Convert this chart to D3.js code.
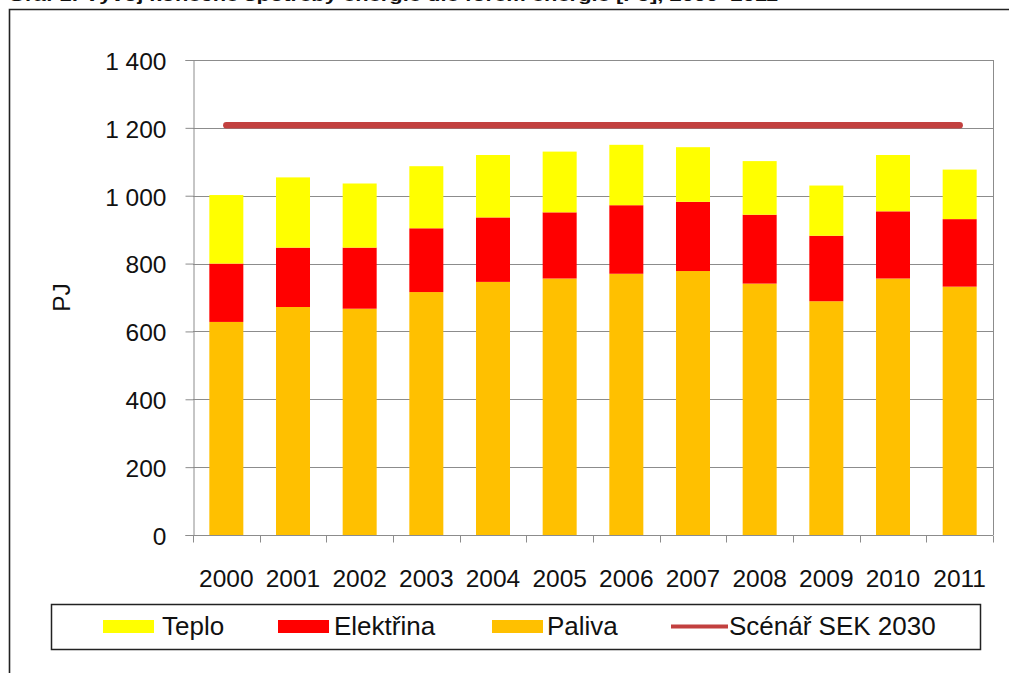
<!DOCTYPE html>
<html>
<head>
<meta charset="utf-8">
<script src="https://cdn.jsdelivr.net/npm/d3@7"></script>
<style>
  html, body { margin: 0; padding: 0; background: #fff; }
  svg { display: block; }
  text { font-family: "Liberation Sans", Arial, sans-serif; fill: #111; }
</style>
</head>
<body>
<svg id="chart" width="1009" height="673"></svg>
<script>
// ---- data ----
const years = ["2000","2001","2002","2003","2004","2005","2006","2007","2008","2009","2010","2011"];
const paliva    = [628, 672, 667, 716, 746, 756, 770, 778, 741, 689, 756, 732];
const elektrina = [172, 175, 180, 188, 190, 195, 202, 204, 203, 193, 198, 199];
const teplo     = [202, 207, 189, 183, 184, 179, 178, 161, 158, 148, 166, 146];
const sek2030   = [1208, 1208, 1208, 1208, 1208, 1208, 1208, 1208, 1208, 1208, 1208, 1208];
const yTicks = [0, 200, 400, 600, 800, 1000, 1200, 1400];
const seriesKeys = ["Paliva", "Elektřina", "Teplo"];
const legendLabels = ["Teplo", "Elektřina", "Paliva", "Scénář SEK 2030"];
const titleText = "Graf 1: Vývoj konečné spotřeby energie dle forem energie [PJ], 2000–2011";
const yLabel = "PJ";

const colors = { "Paliva": "#FFC000", "Elektřina": "#FF0000", "Teplo": "#FFFF00", "line": "#C2403F" };

const rows = years.map((y, i) => ({ year: y, "Paliva": paliva[i], "Elektřina": elektrina[i], "Teplo": teplo[i], sek: sek2030[i] }));

const svg = d3.select("#chart");
svg.append("rect").attr("width", 1009).attr("height", 673).attr("fill", "#fff");

// title (cut off at the top edge, as in the reference)
svg.append("text")
  .attr("x", 8).attr("y", 1)
  .attr("font-size", 17).attr("font-weight", "bold")
  .attr("textLength", 770).attr("lengthAdjust", "spacingAndGlyphs")
  .text(titleText);

// outer frame (top + left)
svg.append("path")
  .attr("d", "M9.5,673 L9.5,9.5 L1009,9.5")
  .attr("fill", "none").attr("stroke", "#222").attr("stroke-width", 1.6);

const L = 193, R = 993, T = 60, B = 535;
const x = d3.scaleBand().domain(years).range([L, R]).padding(0);
const y = d3.scaleLinear().domain([0, 1400]).range([B, T]);
const barW = x.bandwidth() * 0.51;

// gridlines
svg.append("g").selectAll("line").data(yTicks.filter(d => d > 0)).join("line")
  .attr("x1", L).attr("x2", R)
  .attr("y1", d => Math.round(y(d)) + 0.5).attr("y2", d => Math.round(y(d)) + 0.5)
  .attr("stroke", "#8c8c8c").attr("stroke-width", 1);

// plot border right
svg.append("line").attr("x1", R + 0.5).attr("x2", R + 0.5).attr("y1", T).attr("y2", B)
  .attr("stroke", "#8c8c8c");

// stacked bars
const stack = d3.stack().keys(seriesKeys)(rows);
svg.append("g").selectAll("g").data(stack).join("g")
  .attr("fill", d => colors[d.key])
  .selectAll("rect").data(d => d).join("rect")
  .attr("x", d => x(d.data.year) + (x.bandwidth() - barW) / 2)
  .attr("width", barW)
  .attr("y", d => y(d[1]))
  .attr("height", d => y(d[0]) - y(d[1]));

// y axis
const loc = d3.formatLocale({ decimal: ",", thousands: "\u00a0", grouping: [3], currency: ["", ""] });
const fmt = loc.format(",d");
const yAxis = svg.append("g").attr("transform", `translate(${L + 0.5},0)`)
  .call(d3.axisLeft(y).tickValues(yTicks).tickFormat(fmt).tickSize(8).tickPadding(19));
yAxis.select(".domain").attr("stroke", "#8c8c8c");
yAxis.selectAll(".tick line").attr("stroke", "#8c8c8c");
yAxis.selectAll(".tick text").attr("font-size", 24.5).attr("fill", "#111")
  .attr("font-family", "Liberation Sans, Arial, sans-serif").attr("dy", "0.38em");

// x axis
const xAxis = svg.append("g").attr("transform", `translate(0,${B + 0.5})`);
xAxis.append("line").attr("x1", L).attr("x2", R).attr("stroke", "#8c8c8c");
const bounds = years.map(d => x(d)).concat([x(years[years.length - 1]) + x.step()]);
xAxis.selectAll(".tk").data(bounds).join("line").attr("class", "tk")
  .attr("x1", d => Math.round(d) + 0.5).attr("x2", d => Math.round(d) + 0.5)
  .attr("y1", 0).attr("y2", 7).attr("stroke", "#8c8c8c");
xAxis.selectAll("text").data(years).join("text")
  .attr("x", d => x(d) + x.bandwidth() / 2).attr("y", 51)
  .attr("text-anchor", "middle").attr("font-size", 24.5)
  .text(d => d);

// y label
svg.append("text").attr("transform", `translate(70,${(T + B) / 2}) rotate(-90)`)
  .attr("text-anchor", "middle").attr("font-size", 24.5).text(yLabel);

// SEK line
const line = d3.line().x(d => x(d.year) + x.bandwidth() / 2).y(d => y(d.sek));
svg.append("path").datum(rows).attr("d", line)
  .attr("fill", "none").attr("stroke", colors.line).attr("stroke-width", 6.5)
  .attr("stroke-linecap", "round");

// legend
const lg = svg.append("g");
lg.append("rect").attr("x", 51.5).attr("y", 604.5).attr("width", 929).attr("height", 45)
  .attr("fill", "#fff").attr("stroke", "#222").attr("stroke-width", 1.5);
const legendItems = [
  { label: legendLabels[0], type: "rect", color: colors["Teplo"], sx: 103, tx: 162 },
  { label: legendLabels[1], type: "rect", color: colors["Elektřina"], sx: 278, tx: 334 },
  { label: legendLabels[2], type: "rect", color: colors["Paliva"], sx: 492, tx: 547 },
  { label: legendLabels[3], type: "line", color: colors.line, sx: 671, tx: 729 }
];
legendItems.forEach(it => {
  if (it.type === "rect") {
    lg.append("rect").attr("x", it.sx).attr("y", 620).attr("width", 51).attr("height", 13).attr("fill", it.color);
  } else {
    lg.append("line").attr("x1", it.sx).attr("x2", it.sx + 57).attr("y1", 626.5).attr("y2", 626.5)
      .attr("stroke", it.color).attr("stroke-width", 4);
  }
  lg.append("text").attr("x", it.tx).attr("y", 635).attr("font-size", 26).text(it.label);
});
</script>
</body>
</html>
